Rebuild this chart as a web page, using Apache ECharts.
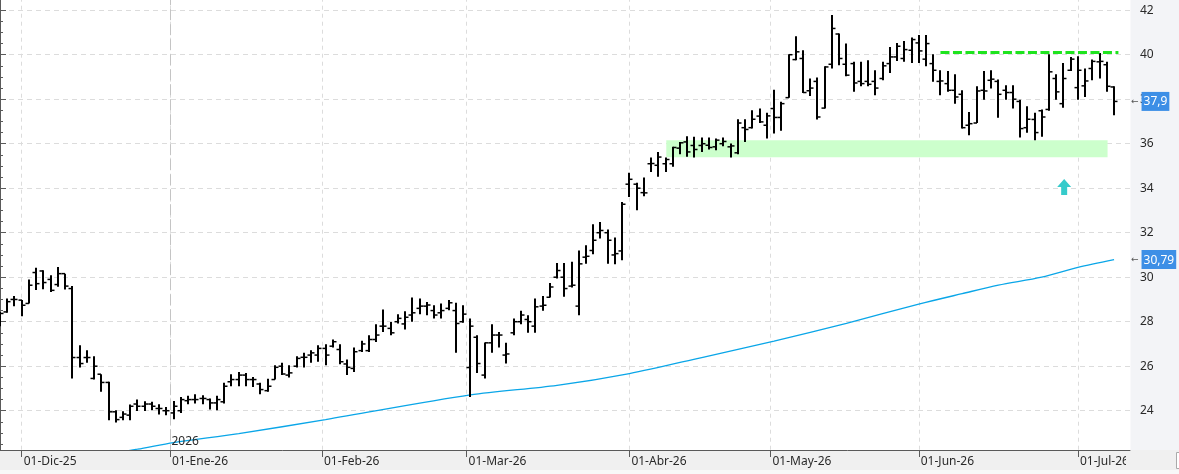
<!DOCTYPE html>
<html>
<head>
<meta charset="utf-8">
<title>Barras diarias</title>
<style>
  html, body { margin: 0; padding: 0; background: #fff; }
  #chart { width: 1179px; height: 474px; }
</style>
</head>
<body>
<div id="chart"></div>
<script src="https://cdn.jsdelivr.net/npm/echarts@6/dist/echarts.min.js"></script>
<script>
// daily OHLC, one entry per trading session (26-Nov-25 .. 08-Jul-26)
var opens = [
  28.22, 28.44, 29.00, 28.97, 28.82, 30.21, 30.28, 29.90, 29.67, 30.16,
  29.49, 26.39, 26.39, 25.45, 25.64, 25.27, 23.95, 23.70, 23.80, 24.30,
  24.20, 24.30, 24.10, 24.00, 23.90, 24.00, 24.45, 24.50, 24.55, 24.50,
  24.35, 24.40, 25.30, 25.40, 25.60, 25.40, 25.20, 24.90, 25.40, 26.00,
  25.60, 26.00, 26.40, 26.50, 26.50, 26.80, 26.90, 26.75, 26.10, 25.90,
  26.70, 26.70, 27.20, 27.80, 27.70, 28.00, 27.90, 28.30, 28.60, 28.70,
  28.50, 28.40, 28.60, 28.50, 28.00, 25.94, 27.30, 25.60, 27.05, 27.40,
  26.50, 27.50, 28.00, 28.10, 27.80, 28.70, 29.10, 30.00, 30.00, 29.60,
  28.70, 30.90, 31.20, 32.00, 32.00, 31.00, 31.18, 34.18, 34.18, 33.80,
  35.10, 35.03, 35.10, 35.10, 35.80, 36.08, 35.92, 35.92, 35.93, 35.86,
  36.00, 35.86, 35.59, 36.72, 36.72, 37.24, 36.83, 37.58, 37.18, 38.07,
  39.78, 39.83, 38.38, 38.80, 37.60, 39.57, 40.93, 39.57, 39.60, 38.80,
  38.80, 38.80, 38.93, 39.60, 39.90, 39.83, 40.20, 40.53, 39.80, 39.60,
  38.80, 38.70, 38.40, 38.22, 36.83, 36.93, 38.40, 38.85, 38.80, 38.40,
  38.30, 37.90, 36.72, 37.09, 37.48, 37.54, 38.93, 37.80, 39.30, 38.52,
  38.60, 39.38, 39.68, 39.55, 38.55
];
var highs = [
  28.44, 29.04, 29.15, 28.97, 29.90, 30.43, 30.31, 30.09, 30.46, 30.16,
  29.60, 26.94, 26.72, 26.45, 25.64, 25.30, 24.02, 23.98, 24.28, 24.50,
  24.43, 24.40, 24.29, 24.17, 24.44, 24.62, 24.67, 24.74, 24.70, 24.55,
  24.67, 25.26, 25.64, 25.74, 25.70, 25.52, 25.26, 25.44, 26.04, 26.15,
  26.04, 26.45, 26.60, 26.72, 26.94, 26.99, 27.20, 26.99, 26.30, 26.84,
  27.14, 27.39, 27.89, 28.55, 27.99, 28.34, 28.47, 29.09, 29.04, 28.89,
  28.74, 28.82, 28.97, 28.85, 28.74, 28.14, 27.39, 27.06, 27.88, 27.54,
  27.05, 28.14, 28.49, 28.29, 29.04, 29.15, 29.74, 30.64, 30.64, 30.69,
  31.20, 31.44, 32.38, 32.48, 32.14, 31.78, 33.38, 34.69, 34.24, 34.48,
  35.38, 35.63, 35.38, 35.86, 36.08, 36.34, 36.31, 36.28, 36.28, 36.23,
  36.28, 36.01, 37.10, 37.10, 37.50, 37.58, 37.39, 38.43, 37.88, 40.02,
  40.83, 40.20, 38.93, 38.97, 39.48, 41.78, 40.95, 40.50, 39.68, 39.68,
  39.75, 39.30, 39.68, 40.35, 40.53, 40.62, 40.77, 40.88, 40.88, 40.02,
  39.30, 39.27, 39.12, 38.40, 37.43, 38.58, 39.27, 39.30, 38.88, 38.63,
  38.63, 37.98, 37.68, 37.39, 37.54, 40.02, 39.12, 39.63, 39.90, 39.93,
  39.38, 39.78, 40.08, 39.68, 38.58
];
var lows = [
  27.80, 28.40, 28.70, 28.25, 28.82, 29.42, 29.46, 29.34, 29.57, 29.45,
  25.45, 25.94, 26.15, 25.40, 24.85, 23.57, 23.47, 23.57, 23.57, 23.99,
  23.99, 24.02, 23.83, 23.80, 23.62, 23.90, 24.29, 24.32, 24.29, 24.05,
  24.02, 24.32, 25.10, 25.10, 25.10, 25.07, 24.74, 24.85, 25.40, 25.60,
  25.49, 25.94, 25.94, 26.15, 26.20, 26.04, 26.84, 26.09, 25.60, 25.74,
  26.64, 26.64, 27.09, 27.54, 27.39, 27.92, 27.65, 28.00, 28.34, 28.29,
  28.14, 28.14, 28.52, 26.60, 27.95, 24.62, 25.70, 25.45, 26.60, 26.84,
  26.12, 27.39, 27.89, 27.50, 27.50, 28.49, 29.09, 29.94, 29.12, 29.54,
  28.29, 30.61, 31.03, 31.74, 30.61, 30.58, 30.76, 33.61, 33.01, 33.64,
  34.73, 34.51, 34.73, 34.96, 35.53, 35.41, 35.38, 35.63, 35.74, 35.71,
  35.89, 35.38, 35.53, 36.08, 36.68, 36.93, 36.23, 36.46, 36.58, 38.07,
  39.75, 38.28, 38.14, 37.09, 37.58, 39.38, 39.53, 39.03, 38.33, 38.58,
  38.58, 38.18, 38.85, 39.18, 39.72, 39.68, 39.63, 39.63, 39.48, 38.78,
  38.18, 38.33, 37.80, 36.68, 36.38, 36.93, 37.98, 38.48, 37.17, 37.98,
  37.58, 36.28, 36.49, 36.16, 36.31, 37.48, 37.98, 37.62, 39.27, 37.98,
  38.10, 38.85, 38.93, 38.33, 37.28
];
var closes = [
  28.37, 28.90, 29.00, 28.74, 29.64, 29.71, 29.76, 29.41, 30.16, 29.60,
  26.39, 26.12, 26.39, 26.00, 25.27, 23.95, 23.60, 23.85, 24.20, 24.20,
  24.30, 24.20, 24.10, 24.00, 24.20, 24.50, 24.50, 24.50, 24.55, 24.35,
  24.50, 25.10, 25.40, 25.60, 25.40, 25.40, 24.95, 25.10, 25.95, 25.65,
  25.70, 26.35, 26.40, 26.60, 26.80, 26.50, 27.10, 26.20, 25.95, 26.65,
  27.00, 27.20, 27.40, 27.80, 27.50, 28.15, 28.20, 28.40, 28.70, 28.75,
  28.30, 28.50, 28.85, 27.92, 28.34, 27.80, 26.12, 27.05, 27.40, 27.40,
  26.55, 28.00, 28.30, 28.00, 28.67, 28.74, 29.56, 30.30, 29.49, 29.64,
  30.60, 30.94, 31.66, 32.10, 31.66, 31.06, 33.28, 34.40, 34.00, 33.79,
  35.11, 35.40, 35.29, 35.83, 36.04, 35.63, 35.74, 36.00, 35.83, 36.16,
  36.10, 35.90, 36.93, 36.64, 37.10, 36.98, 37.25, 37.18, 37.80, 40.00,
  40.13, 38.30, 38.50, 37.20, 39.45, 41.18, 39.83, 39.08, 38.73, 38.70,
  38.67, 38.50, 39.50, 39.90, 40.38, 40.23, 40.68, 40.17, 40.50, 39.30,
  38.82, 38.40, 38.10, 36.72, 36.90, 38.37, 38.37, 38.90, 38.22, 38.30,
  38.00, 36.68, 37.10, 36.50, 37.20, 39.23, 38.33, 38.93, 39.80, 39.30,
  38.82, 39.70, 39.70, 38.58, 37.90
];

// long moving average, read at a few sessions (session index, value)
var maIndex  = [12, 19, 24, 33, 45, 65, 77, 87, 97, 107, 117, 127, 133, 138, 144, 149, 154];
var maValues = [21.90, 22.27, 22.57, 22.97, 23.60, 24.71, 25.14, 25.67, 26.39, 27.13, 27.93, 28.79, 29.26, 29.64, 30.00, 30.44, 30.79];

// month starts on the session axis (x.5 = month began on a non-trading day)
var monthTicks  = [3, 23.5, 44.5, 64.5, 87, 106.5, 127, 149];
var monthLabels = ['01-Dic-25', '01-Ene-26', '01-Feb-26', '01-Mar-26', '01-Abr-26', '01-May-26', '01-Jun-26', '01-Jul-26'];
var yearTick = 23.5;
var yearLabel = '2026';

// drawn annotations
var resistance = 40.1;
var resistanceFrom = 130, resistanceTo = 154.6;
var supportZone = [35.39, 36.16];
var supportFrom = 92.1, supportTo = 153.1;
var signalAt = [147.1, 34.05];

var FONT = '"Noto Sans", "DejaVu Sans", sans-serif';

function comma(v) {
  return String(v).replace('.', ',');
}

var bars = opens.map(function (o, i) {
  return [i, o, highs[i], lows[i], closes[i]];
});
var maData = maIndex.map(function (x, i) {
  return [x, maValues[i]];
});
var lastClose = closes[closes.length - 1];
var lastMa = maValues[maValues.length - 1];

function renderBar(params, api) {
  var i = api.value(0);
  var hi = api.coord([i, api.value(2)]);
  var lo = api.coord([i, api.value(3)]);
  var op = api.coord([i, api.value(1)]);
  var cl = api.coord([i, api.value(4)]);
  var x = Math.round(hi[0]);
  var stub = 2.5;
  return {
    type: 'group',
    children: [
      { type: 'line', shape: { x1: x, y1: hi[1], x2: x, y2: lo[1] }, style: { stroke: '#000', lineWidth: 2 } },
      { type: 'line', shape: { x1: x - stub - 1, y1: op[1], x2: x, y2: op[1] }, style: { stroke: '#000', lineWidth: 1.5 } },
      { type: 'line', shape: { x1: x, y1: cl[1], x2: x + stub + 1, y2: cl[1] }, style: { stroke: '#000', lineWidth: 1.5 } }
    ]
  };
}

function priceTag(v) {
  return {
    yAxis: v,
    lineStyle: { color: 'rgba(0,0,0,0)', width: 1 },
    label: {
      show: true,
      position: 'end',
      distance: 1,
      formatter: '{a|\u2190}{b|' + comma(v) + '}',
      rich: {
        a: { color: '#555', fontSize: 9, fontFamily: FONT, padding: [0, 3, 0, 0] },
        b: { color: '#fff', backgroundColor: '#3d8fe6', fontSize: 12, fontFamily: FONT, padding: [4, 2, 3, 2], lineHeight: 12 }
      }
    }
  };
}

var chart = echarts.init(document.getElementById('chart'));

chart.setOption({
  animation: false,
  backgroundColor: '#fff',
  textStyle: { fontFamily: FONT },
  grid: { left: 0, right: 49, top: -34.3, bottom: 18.8, containLabel: false, outerBoundsMode: 'none' },
  xAxis: [
    {
      type: 'value', position: 'bottom', min: 0, max: 156.2,
      axisLine: { show: false },
      axisTick: { show: false, customValues: monthTicks },
      axisLabel: { show: false, customValues: monthTicks },
      splitLine: { show: true, lineStyle: { color: '#dcdcdc', type: [4, 4], width: 1 } }
    },
    {
      type: 'value', position: 'bottom', min: 0, max: 156.2, offset: -5.2, z: 20,
      axisLine: { show: true, lineStyle: { color: '#5a5a5a', width: 1 } },
      axisTick: { show: true, customValues: monthTicks, length: 7, lineStyle: { color: '#5a5a5a' } },
      axisLabel: {
        show: true, customValues: monthTicks, align: 'left', margin: 6,
        padding: [0, 0, 0, 2], color: '#2a2a2a', fontSize: 12, fontFamily: FONT,
        formatter: function (v) {
          var k = monthTicks.indexOf(v);
          return k >= 0 ? monthLabels[k] : '';
        }
      },
      splitLine: { show: false }
    }
  ],
  yAxis: {
    type: 'value', position: 'right', min: 22, max: 44, interval: 2,
    axisLine: { show: true, lineStyle: { color: '#5a5a5a', width: 1 } },
    axisTick: { show: true, length: 6, lineStyle: { color: '#5a5a5a' } },
    minorTick: { show: true, splitNumber: 4, length: 3, lineStyle: { color: '#5a5a5a' } },
    axisLabel: {
      margin: 10, color: '#2a2a2a', fontSize: 12, fontFamily: FONT,
      formatter: function (v) { return (v <= 22 || v >= 44) ? '' : String(v); }
    },
    splitLine: { show: true, lineStyle: { color: '#dcdcdc', type: [5, 4], width: 1 } }
  },
  series: [
    {
      name: 'MA',
      type: 'line',
      xAxisIndex: 0,
      data: maData,
      showSymbol: false,
      symbol: 'none',
      smooth: 0.3,
      lineStyle: { color: '#0aa6e8', width: 1.3 },
      z: 2
    },
    {
      name: 'OHLC',
      type: 'custom',
      xAxisIndex: 0,
      renderItem: renderBar,
      encode: { x: 0, y: [1, 2, 3, 4] },
      data: bars,
      clip: false,
      z: 3,
      markArea: {
        silent: true,
        itemStyle: { color: '#ccffcc' },
        data: [[
          { xAxis: supportFrom, yAxis: supportZone[1] },
          { xAxis: supportTo, yAxis: supportZone[0] }
        ]]
      },
      markLine: {
        silent: true,
        symbol: 'none',
        label: { show: false },
        data: [
          { xAxis: yearTick, lineStyle: { color: '#c4c4c4', type: [11, 4], width: 1 }, label: { show: false } },
          [
            { coord: [resistanceFrom, resistance], lineStyle: { color: '#1ee41e', type: [9, 3.5], width: 3 }, label: { show: false } },
            { coord: [resistanceTo, resistance] }
          ],
          priceTag(lastClose),
          priceTag(lastMa)
        ]
      },
      markPoint: {
        silent: true,
        data: [
          {
            coord: signalAt,
            symbol: 'path://M7,0 L14,8 L10,8 L10,16 L4,16 L4,8 L0,8 Z',
            symbolSize: [14, 16],
            itemStyle: { color: '#35cbcb' },
            label: { show: false }
          },
          {
            coord: [yearTick, 22.61],
            symbol: 'rect',
            symbolSize: 1,
            itemStyle: { color: 'rgba(0,0,0,0)' },
            label: { show: true, position: 'right', distance: 1, formatter: yearLabel, color: '#2a2a2a', fontSize: 12, fontFamily: FONT }
          }
        ]
      }
    }
  ],
  graphic: [
    { type: 'rect', z: -10, shape: { x: 1130.5, y: 0, width: 49, height: 450 }, style: { fill: '#f3f4f7' } },
    { type: 'rect', z: 10, shape: { x: 0, y: 450, width: 1179, height: 20 }, style: { fill: '#f0f0f0' } },
    { type: 'rect', z: 10, shape: { x: 0, y: 470, width: 1179, height: 4 }, style: { fill: '#f8f8f8' } },
    { type: 'rect', z: 30, shape: { x: 1126, y: 451, width: 53, height: 19 }, style: { fill: '#f0f0f0' } },
    { type: 'rect', z: 31, shape: { x: 1176.5, y: 452.5, width: 8, height: 16 }, style: { fill: '#fff', stroke: '#aaa', lineWidth: 1 } }
  ]
});
</script>
</body>
</html>
